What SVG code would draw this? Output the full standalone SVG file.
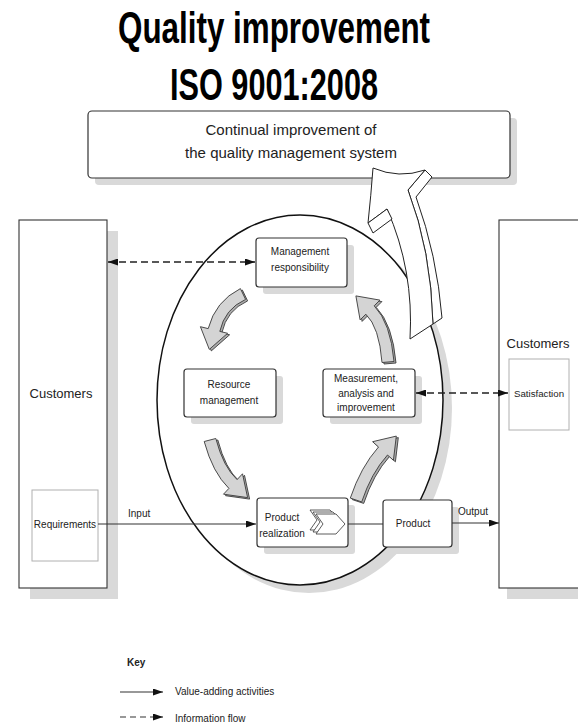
<svg xmlns="http://www.w3.org/2000/svg" width="578" height="724" viewBox="0 0 578 724">
<defs>
<style>
.t{font-family:"Liberation Sans",Arial,sans-serif;fill:#222;}
.ttl{font-family:"Liberation Sans",Arial,sans-serif;font-weight:bold;fill:#000;font-size:45px;}
.box{fill:#fff;stroke:#333;stroke-width:1.2;}
.shd{fill:#d9d9d9;stroke:none;}
.sub{fill:#fff;stroke:#b0b0b0;stroke-width:1;}
.ga{fill:#d4d4d4;stroke:#3a3a3a;stroke-width:0.9;stroke-linejoin:round;}
.gb{fill:#ababab;stroke:#3a3a3a;stroke-width:0.9;stroke-linejoin:round;}
.ba{fill:#fff;stroke:#222;stroke-width:1;stroke-linejoin:round;}
.sol{fill:none;stroke:#333;stroke-width:1.1;}
.dsh{fill:none;stroke:#222;stroke-width:1.3;stroke-dasharray:7,4;}
</style>
<marker id="ah" viewBox="0 0 10 7" refX="10" refY="3.5" markerWidth="10" markerHeight="7" markerUnits="userSpaceOnUse" orient="auto-start-reverse">
<path d="M0,0 L10,3.5 L0,7 Z" fill="#111"/>
</marker>
</defs>
<rect x="0" y="0" width="578" height="724" fill="#fff"/>

<g id="title">
<text class="ttl" x="118" y="43" textLength="312" lengthAdjust="spacingAndGlyphs">Quality improvement</text>
<text class="ttl" x="170" y="100" textLength="208" lengthAdjust="spacingAndGlyphs">ISO 9001:2008</text>
</g>

<g id="customers-left">
<rect class="shd" x="30" y="231" width="88" height="368"/>
<rect x="19" y="220" width="88" height="368" fill="#fff" stroke="#333" stroke-width="1.1"/>
<text class="t" x="61" y="398" font-size="13" text-anchor="middle">Customers</text>
</g>
<g id="requirements">
<rect class="sub" x="32" y="490" width="66" height="71"/>
<text class="t" x="65" y="528" font-size="10" text-anchor="middle">Requirements</text>
</g>

<g id="customers-right">
<rect class="shd" x="507" y="231" width="100" height="368"/>
<rect x="499" y="220" width="100" height="368" fill="#fff" stroke="#333" stroke-width="1.1"/>
<text class="t" x="538" y="348" font-size="13" text-anchor="middle">Customers</text>
</g>
<g id="satisfaction">
<rect class="sub" x="509" y="359" width="60" height="71"/>
<text class="t" x="539" y="397" font-size="9.7" text-anchor="middle">Satisfaction</text>
</g>

<g id="qms">
<ellipse cx="309" cy="408" rx="143" ry="185" fill="#d9d9d9"/>
<ellipse cx="300" cy="400" rx="143" ry="185" fill="#fff" stroke="#111" stroke-width="1.5"/>
</g>

<g id="continual-improvement">
<rect class="shd" x="95" y="118" width="422" height="67" rx="4"/>
<rect class="box" x="88" y="111" width="422" height="67" rx="4"/>
<text class="t" x="291" y="135" font-size="15" text-anchor="middle">Continual improvement of</text>
<text class="t" x="291" y="158" font-size="15" text-anchor="middle">the quality management system</text>
</g>

<g id="improvement-arrow">
<path class="ba" d="M425,170 L432,177 L416,197 Q437,255 442,318 L433,324 Q431,250 408,190 Z"/>
<path class="ba" d="M373,168 Q399,179 425,170 L408,190 Q431,250 433,324 L410,339 Q414,270 387,209 L368,223 Q371,195 373,168 Z"/>
<path class="ba" d="M368,223 L387,209 L392,219 L373,233 Z"/>
</g>

<g id="cycle-arrows">
<g transform="translate(2,1.5)">
<path class="gb" d="M245.6,299.4 Q224.7,308.8 219.8,331.4 L227.6,333.3 L209.3,349.4 L200.4,326.7 L208.2,328.6 Q215.3,301.2 240.4,288.6 Z"/>
<path class="gb" d="M382.0,362.5 Q379.3,327.0 365.8,314.2 L360.1,319.9 L355.9,295.9 L379.9,300.1 L374.2,305.8 Q390.7,323.0 394.0,361.5 Z"/>
<path class="gb" d="M215.8,438.5 Q223.3,467.2 237.1,479.6 L242.5,473.8 L247.6,497.6 L223.5,494.2 L228.9,488.4 Q212.7,472.8 204.2,441.5 Z"/>
<path class="gb" d="M350.3,498.1 Q360.7,467.1 378.5,447.0 L372.6,441.7 L396.3,436.1 L393.4,460.3 L387.5,455.0 Q371.3,472.9 361.7,501.9 Z"/>
</g>
<path class="ga" d="M245.6,299.4 Q224.7,308.8 219.8,331.4 L227.6,333.3 L209.3,349.4 L200.4,326.7 L208.2,328.6 Q215.3,301.2 240.4,288.6 Z"/>
<path class="ga" d="M382.0,362.5 Q379.3,327.0 365.8,314.2 L360.1,319.9 L355.9,295.9 L379.9,300.1 L374.2,305.8 Q390.7,323.0 394.0,361.5 Z"/>
<path class="ga" d="M215.8,438.5 Q223.3,467.2 237.1,479.6 L242.5,473.8 L247.6,497.6 L223.5,494.2 L228.9,488.4 Q212.7,472.8 204.2,441.5 Z"/>
<path class="ga" d="M350.3,498.1 Q360.7,467.1 378.5,447.0 L372.6,441.7 L396.3,436.1 L393.4,460.3 L387.5,455.0 Q371.3,472.9 361.7,501.9 Z"/>
</g>

<g id="management-responsibility">
<rect class="shd" x="263" y="245" width="91" height="49" rx="3"/>
<rect class="box" x="256" y="238" width="91" height="49" rx="3"/>
<text class="t" x="300" y="255" font-size="10" text-anchor="middle">Management</text>
<text class="t" x="300" y="271" font-size="10" text-anchor="middle">responsibility</text>
</g>

<g id="resource-management">
<rect class="shd" x="191" y="376" width="92" height="48" rx="3"/>
<rect class="box" x="184" y="369" width="92" height="48" rx="3"/>
<text class="t" x="229" y="388" font-size="10" text-anchor="middle">Resource</text>
<text class="t" x="229" y="404" font-size="10" text-anchor="middle">management</text>
</g>

<g id="measurement">
<rect class="shd" x="330" y="376" width="92" height="48" rx="3"/>
<rect class="box" x="323" y="369" width="92" height="48" rx="3"/>
<text class="t" x="366" y="382" font-size="10" text-anchor="middle">Measurement,</text>
<text class="t" x="366" y="397" font-size="10" text-anchor="middle">analysis and</text>
<text class="t" x="366" y="411" font-size="10" text-anchor="middle">improvement</text>
</g>

<g id="product-realization">
<rect class="shd" x="264" y="505" width="91" height="49" rx="3"/>
<rect class="box" x="257" y="498" width="91" height="49" rx="3"/>
<text class="t" x="282" y="521" font-size="10" text-anchor="middle">Product</text>
<text class="t" x="282" y="537" font-size="10" text-anchor="middle">realization</text>
<g fill="#fff" stroke="#333" stroke-width="0.8">
<path d="M310,510 L330,510 L339,520 L330,530 L310,530 L317,520 Z"/>
<path d="M313,512 L333,512 L342,522 L333,532 L313,532 L320,522 Z"/>
<path d="M316,514 L336,514 L345,524 L336,534 L316,534 L323,524 Z"/>
</g>
</g>

<g id="product">
<rect class="shd" x="390" y="507" width="69" height="47" rx="3"/>
<rect class="box" x="383" y="500" width="69" height="47" rx="3"/>
<text class="t" x="413" y="527" font-size="10" text-anchor="middle">Product</text>
</g>

<g id="connectors">
<line class="dsh" x1="108" y1="262" x2="255" y2="262" marker-start="url(#ah)" marker-end="url(#ah)"/>
<line class="dsh" x1="416" y1="393" x2="508" y2="393" marker-start="url(#ah)" marker-end="url(#ah)"/>
<line class="sol" x1="98" y1="524" x2="256" y2="524" marker-end="url(#ah)"/>
<line class="sol" x1="348" y1="524" x2="383" y2="524"/>
<line class="sol" x1="452" y1="523" x2="499" y2="523" marker-end="url(#ah)"/>
<text class="t" x="128" y="517" font-size="10">Input</text>
<text class="t" x="458" y="515" font-size="10">Output</text>
</g>

<g id="key">
<text class="t" x="127" y="666" font-size="10" font-weight="bold">Key</text>
<line class="sol" x1="120" y1="692" x2="163" y2="692" marker-end="url(#ah)"/>
<text class="t" x="175" y="695" font-size="10">Value-adding activities</text>
<line x1="120" y1="717" x2="163" y2="717" fill="none" stroke="#333" stroke-width="1.1" stroke-dasharray="6,4" marker-end="url(#ah)"/>
<text class="t" x="175" y="722" font-size="10">Information flow</text>
</g>
</svg>
